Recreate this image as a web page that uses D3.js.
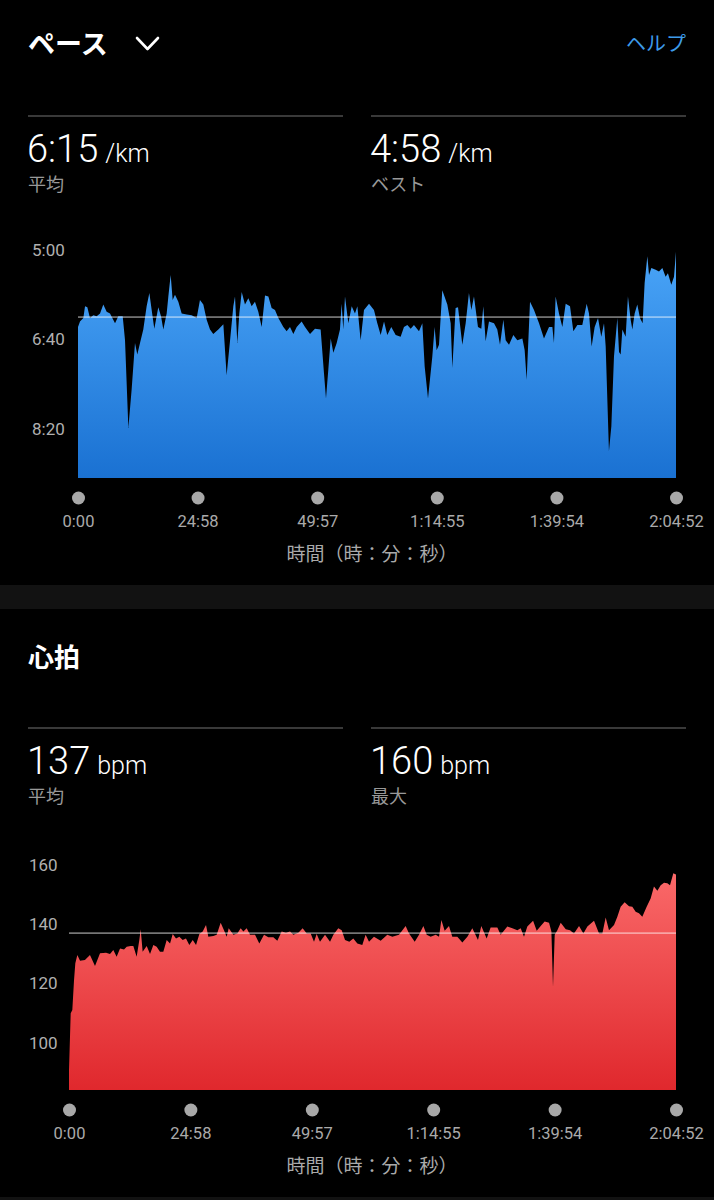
<!DOCTYPE html>
<html><head><meta charset="utf-8">
<script src="https://cdn.jsdelivr.net/npm/d3@7"></script>
<style>
html,body{margin:0;padding:0;background:#000;}
svg{display:block;}
text{font-family:Roboto,"Noto Sans CJK JP",sans-serif;}
</style></head>
<body>
<svg id="c" width="714" height="1200"></svg>
<script>
// ---------- DATA ----------
const totalSeconds = 7492;
const timeTicks = [0, 1498, 2997, 4495, 5994, 7492];
const timeTickLabels = ["0:00","24:58","49:57","1:14:55","1:39:54","2:04:52"];
const paceTicks = [300, 400, 500];
const paceTickLabels = ["5:00","6:40","8:20"];
const paceAvg = 375;   // 6:15
const heartTicks = [160, 140, 120, 100];
const heartAvg = 137;
// [elapsed seconds, pace seconds per km]
const paceSeries = [[0,386],[25,380],[67,376],[88,363],[117,364],[150,376],[192,373],[234,374],[276,371],[317,361],[359,369],[401,371],[464,382],[505,374],[560,374],[589,401],[631,499],[672,456],[714,404],[743,417],[777,404],[818,389],[860,363],[894,348],[923,367],[956,388],[1006,364],[1040,374],[1069,389],[1111,371],[1132,352],[1161,328],[1186,356],[1215,350],[1257,358],[1299,371],[1362,372],[1424,373],[1487,376],[1528,356],[1570,361],[1612,378],[1654,389],[1695,394],[1758,389],[1821,383],[1862,440],[1904,402],[1946,363],[1967,352],[1996,404],[2021,371],[2051,347],[2092,361],[2134,354],[2176,363],[2217,358],[2259,369],[2301,386],[2343,351],[2385,352],[2426,365],[2468,367],[2510,376],[2573,386],[2614,391],[2656,386],[2698,394],[2740,386],[2802,380],[2844,386],[2907,394],[2969,388],[3040,389],[3082,438],[3107,466],[3136,434],[3166,399],[3199,415],[3241,404],[3282,389],[3303,360],[3324,389],[3345,352],[3387,382],[3429,363],[3470,371],[3500,363],[3541,401],[3583,367],[3646,360],[3708,367],[3750,382],[3792,395],[3834,380],[3875,395],[3925,386],[3980,395],[4042,397],[4084,386],[4126,384],[4168,388],[4209,384],[4272,391],[4314,382],[4343,430],[4385,466],[4439,419],[4468,386],[4493,412],[4523,406],[4564,345],[4627,361],[4669,382],[4690,432],[4731,365],[4761,364],[4815,406],[4857,382],[4898,348],[4928,367],[4961,352],[5011,386],[5053,388],[5078,363],[5107,402],[5149,380],[5212,382],[5253,389],[5287,406],[5329,378],[5358,401],[5400,406],[5454,395],[5504,401],[5567,399],[5596,412],[5621,445],[5663,358],[5713,367],[5776,382],[5838,399],[5901,386],[5943,386],[5963,404],[5984,352],[6026,371],[6068,386],[6110,360],[6164,363],[6206,391],[6256,384],[6318,384],[6373,360],[6402,371],[6435,408],[6473,386],[6515,376],[6556,397],[6590,382],[6611,408],[6652,525],[6682,497],[6715,419],[6757,376],[6778,414],[6799,417],[6820,389],[6861,397],[6890,352],[6924,378],[6945,389],[6974,371],[7007,361],[7041,376],[7074,382],[7099,337],[7133,307],[7154,328],[7183,320],[7237,322],[7279,324],[7321,320],[7362,330],[7391,326],[7433,339],[7467,330],[7492,302]];
// [elapsed seconds, bpm]
const heartSeries = [[0,90.7],[21,109.9],[41,111],[62,121.1],[78,126.8],[103,129.6],[136,127.7],[197,127.9],[259,129.6],[321,125.9],[383,130.2],[457,130.4],[506,129.9],[547,131.3],[588,129],[630,131.8],[679,131.5],[712,132.4],[761,132.6],[794,132.6],[835,129],[868,134.7],[885,138.3],[909,130.7],[959,132.6],[1000,129.9],[1041,133],[1082,132.4],[1123,130.7],[1164,130.7],[1206,134.7],[1247,133.5],[1280,136.7],[1321,135.2],[1362,135.8],[1403,134.7],[1444,135.2],[1485,133],[1527,134.7],[1568,133],[1609,136.7],[1650,137.5],[1691,139.7],[1720,135.8],[1782,136],[1823,136.4],[1872,140.5],[1913,138],[1946,135.8],[1971,138.6],[2029,136.4],[2078,136.9],[2119,138.6],[2152,137.5],[2193,138.6],[2234,136.4],[2296,136.4],[2349,133.5],[2407,136.4],[2460,135.6],[2522,135.6],[2571,134.4],[2625,137.5],[2678,137.1],[2728,137.5],[2769,136.4],[2831,137.1],[2884,138.6],[2934,136.9],[2983,136.9],[3024,134.1],[3057,136.7],[3098,134.1],[3160,136.4],[3222,134.1],[3263,136.4],[3324,138.6],[3366,138],[3407,134.7],[3460,134.1],[3509,135.2],[3559,133.5],[3620,133],[3661,136.4],[3703,134.1],[3764,135.8],[3847,134.4],[3929,136.4],[3991,135.8],[4073,136.4],[4155,139.4],[4197,136.9],[4267,134.1],[4320,136.4],[4374,139.4],[4415,136.4],[4464,135.8],[4526,136.4],[4567,135.8],[4596,141.4],[4637,137.8],[4690,139.4],[4731,135.8],[4793,135.8],[4855,133.8],[4917,135.8],[4978,138.6],[5048,134.7],[5089,139.4],[5155,135.2],[5204,138.9],[5287,138.9],[5328,136.4],[5410,139.2],[5472,138.6],[5534,138],[5575,138.6],[5616,135.8],[5657,139.2],[5728,141.2],[5773,137.8],[5822,139.4],[5871,140.9],[5925,140.5],[5954,137.5],[5974,118.9],[5995,136.4],[6028,138],[6069,140.5],[6131,138.3],[6184,138],[6233,136.9],[6295,139.4],[6349,136.9],[6398,139.2],[6480,141.2],[6542,136.9],[6583,136.9],[6624,142.3],[6665,138],[6727,139.7],[6768,142.5],[6809,145.9],[6858,147.4],[6912,146.1],[6953,145.9],[6994,144.2],[7035,143.7],[7076,142.5],[7130,145.9],[7179,148.7],[7220,152.7],[7262,151.3],[7303,153.2],[7344,154],[7385,153.8],[7418,153.2],[7459,157.2],[7492,156.8]];

// ---------- DRAW ----------
const svg = d3.select("#c");
const defs = svg.append("defs");
function grad(id, top, bottom, y1, y2){
  const g = defs.append("linearGradient").attr("id", id)
    .attr("gradientUnits","userSpaceOnUse").attr("x1",0).attr("x2",0).attr("y1",y1).attr("y2",y2);
  g.append("stop").attr("offset","0%").attr("stop-color",top);
  g.append("stop").attr("offset","100%").attr("stop-color",bottom);
}
grad("gPace", "#4aa5f8", "#1a71d2", 250, 478);
grad("gHeart", "#fa6a6a", "#e0282d", 870, 1090);

// background bands
svg.append("rect").attr("x",0).attr("y",585).attr("width",714).attr("height",24).attr("fill","#121212");
svg.append("rect").attr("x",0).attr("y",1197).attr("width",714).attr("height",3).attr("fill","#121212");

// header
svg.append("text").attr("x",28).attr("y",54).attr("fill","#fff")
  .attr("font-size",27).attr("font-weight",700).text("ペース");
svg.append("path").attr("d","M137,38 L147.5,49 L158,38").attr("fill","none")
  .attr("stroke","#fff").attr("stroke-width",2.6).attr("stroke-linecap","round").attr("stroke-linejoin","round");
svg.append("text").attr("x",686).attr("y",51).attr("text-anchor","end").attr("fill","#3d9be9")
  .attr("font-size",20).text("ヘルプ");

function statBlock(x, yLine, big, unit, label){
  svg.append("line").attr("x1",x).attr("x2",x+315).attr("y1",yLine).attr("y2",yLine)
    .attr("stroke","#4d4d4d").attr("stroke-width",1.5);
  const t = svg.append("text").attr("x",x-1).attr("y",yLine+46).attr("fill","#fff").attr("font-weight",300);
  t.append("tspan").attr("font-size",38).text(big);
  t.append("tspan").attr("font-size",25).attr("dx",7).text(unit);
  svg.append("text").attr("x",x).attr("y",yLine+75).attr("fill","#999")
    .attr("font-size",18).text(label);
}
statBlock(28,116,"6:15","/km","平均");
statBlock(371,116,"4:58","/km","ベスト");

svg.append("text").attr("x",28).attr("y",667).attr("fill","#fff")
  .attr("font-size",26).attr("font-weight",700).text("心拍");
statBlock(28,728,"137","bpm","平均");
statBlock(371,728,"160","bpm","最大");

function chart(opts){
  const x = d3.scaleLinear().domain([0,totalSeconds]).range([opts.left, 676]);
  const y = d3.scaleLinear().domain(opts.yDomain).range(opts.yRange);
  const area = d3.area().x(d=>x(d[0])).y0(y(opts.base)).y1(d=>y(d[1])).curve(d3.curveLinear);
  svg.append("path").datum(opts.data).attr("d",area).attr("fill",`url(#${opts.grad})`);
  // average line
  svg.append("line").attr("x1",x(0)).attr("x2",x(totalSeconds))
    .attr("y1",y(opts.avg)).attr("y2",y(opts.avg))
    .attr("stroke","rgba(255,255,255,0.8)").attr("stroke-width",1);
  // y labels
  svg.append("g").selectAll("text").data(opts.yTicks).join("text")
    .attr("x",opts.yLabelX).attr("y",d=>y(d)).attr("dy","0.35em")
    .attr("fill","#b0b0b0").attr("font-size",17)
    .text((d,i)=>opts.yLabels[i]);
  // x axis
  const ax = d3.axisBottom(x).tickValues(timeTicks).tickSize(0).tickPadding(0)
    .tickFormat((d,i)=>timeTickLabels[i]);
  const g = svg.append("g").attr("transform",`translate(0,${opts.axisY})`).call(ax);
  g.select(".domain").remove();
  g.selectAll(".tick text").attr("y",23).attr("dy","0.35em").attr("fill","#aaa")
    .attr("font-size",16.5).attr("font-family",'Roboto,"Noto Sans CJK JP",sans-serif');
  g.selectAll(".tick").append("circle").attr("r",6.5).attr("cy",0).attr("fill","#a8a8a8");
  svg.append("text").attr("x",372).attr("y",opts.axisY+56).attr("dy","0.35em")
    .attr("text-anchor","middle").attr("fill","#aaa").attr("font-size",19)
    .text("時間（時：分：秒）");
}

chart({left:78, data:paceSeries, grad:"gPace", yDomain:[300,555], yRange:[250,478], base:555,
  avg:paceAvg, yTicks:paceTicks, yLabels:paceTickLabels, yLabelX:32, axisY:498});
chart({left:69, data:heartSeries, grad:"gHeart", yDomain:[84,160], yRange:[1090,865], base:84,
  avg:heartAvg, yTicks:heartTicks, yLabels:heartTicks.map(String), yLabelX:29, axisY:1110});
</script>
</body></html>
